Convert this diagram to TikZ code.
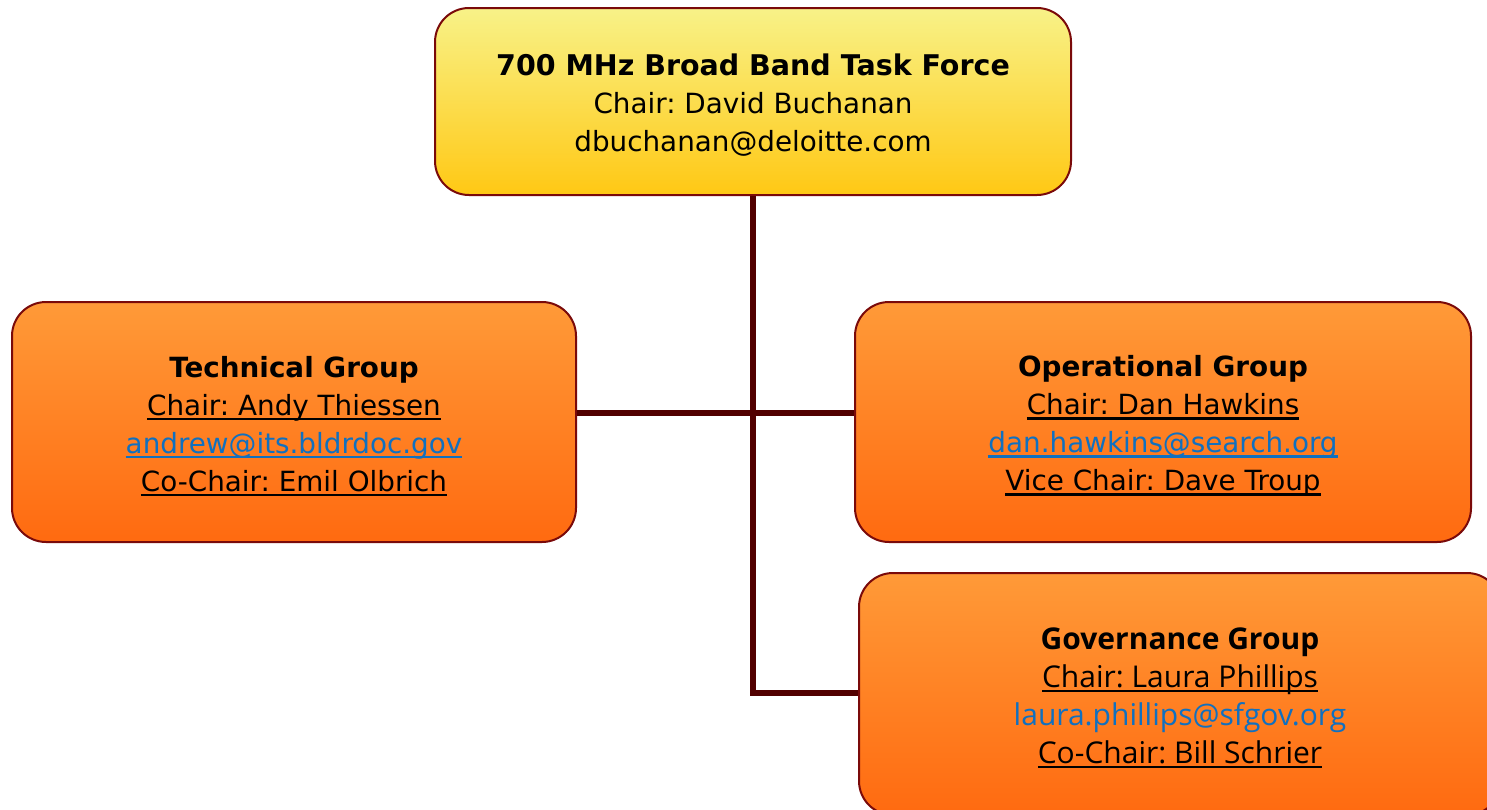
\documentclass[tikz,border=0pt]{standalone}
\usepackage{fontspec}
\setmainfont{DejaVu Sans}
\newfontfamily\govfont{Open Sans}
\frenchspacing
\definecolor{bordercol}{HTML}{7A0A0A}
\definecolor{linecol}{HTML}{520000}
\definecolor{mailcol}{HTML}{1070C0}
\definecolor{yeltop}{HTML}{F8F288}
\definecolor{yelbot}{HTML}{FFC814}
\definecolor{ortop}{HTML}{FF9A38}
\definecolor{orbot}{HTML}{FF6A10}
\newcommand{\ul}[1]{\setbox0\hbox{#1}\rlap{\rule[-5pt]{\wd0}{2.4pt}}\box0}
\newcommand{\mail}[1]{\textcolor{mailcol}{\ul{#1}}}
\newcommand{\tsp}{\rule{0pt}{29pt}}
\tikzset{
  box/.style={draw=bordercol, line width=2pt, rounded corners=34pt, align=center,
    inner sep=0pt, font=\frenchspacing\fontsize{27.8}{38}\selectfont},
  topbox/.style={box, top color=yeltop, bottom color=yelbot},
  grpbox/.style={box, top color=ortop, bottom color=orbot},
  conn/.style={draw=linecol, line width=6pt},
}
\begin{document}
\begin{tikzpicture}[x=1pt,y=-1pt]
\useasboundingbox (0,0) rectangle (1487,809);
\coordinate (j1) at (753,413);
\coordinate (j2) at (753,693);
\node[topbox, minimum width=636pt, minimum height=187pt] (top) at (753,101.5)
  {\tsp\textbf{\fontsize{28.5}{38}\selectfont 700 MHz Broad Band Task Force}\\Chair: David Buchanan\\dbuchanan@deloitte.com};
\node[grpbox, minimum width=564pt, minimum height=240pt] (tech) at (294,422)
  {\tsp\textbf{Technical Group}\\\ul{Chair: Andy Thiessen}\\\mail{andrew@its.bldrdoc.gov}\\\ul{Co-Chair: Emil Olbrich}};
\node[grpbox, minimum width=616pt, minimum height=240pt] (ops) at (1163,422)
  {\tsp\textbf{Operational Group}\\\ul{Chair: Dan Hawkins}\\\mail{dan.hawkins@search.org}\\\ul{Vice Chair: Dave Troup}};
\node[grpbox, minimum width=642pt, minimum height=242pt, font=\govfont\fontsize{30}{38}\selectfont] (gov) at (1180,694)
  {\tsp\textbf{Governance Group}\\\ul{Chair: Laura Phillips}\\\textcolor{mailcol}{laura.phillips@sfgov.org}\\\ul{Co-Chair: Bill Schrier}};
\draw[conn] (top.south) -- (j2) -- (gov.west |- j2);
\draw[conn] (tech.east |- j1) -- (ops.west |- j1);
\end{tikzpicture}
\end{document}
